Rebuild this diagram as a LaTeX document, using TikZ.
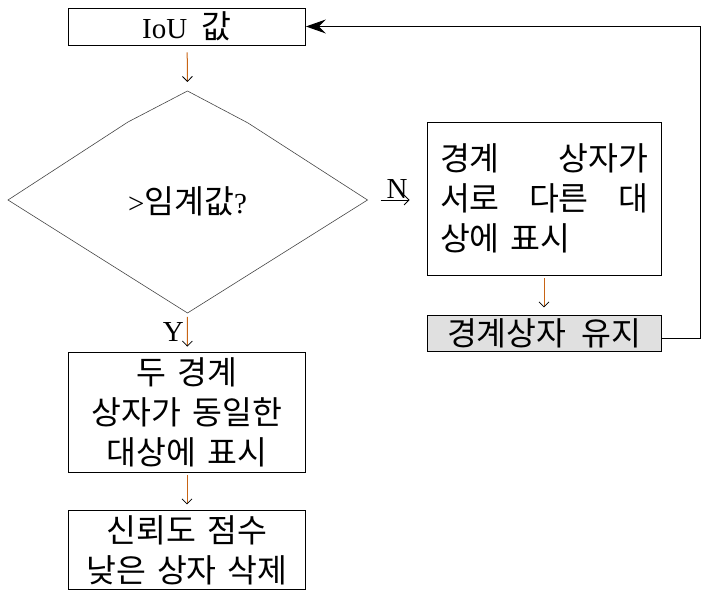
\documentclass[tikz,border=0pt]{standalone}
\usepackage{fontspec}
\setmainfont{Liberation Serif}
\newfontfamily\krfont[Scale=1.12]{Noto Sans CJK KR}
\usetikzlibrary{arrows.meta, positioning}
\definecolor{flowbrown}{RGB}{200,100,20}
\definecolor{edgegray}{RGB}{70,70,70}
\definecolor{keepgray}{RGB}{224,224,224}
\newcommand\boxfont{\krfont\fontsize{29}{40}\selectfont\spaceskip 0.45em\relax}
\tikzset{
  box/.style={rectangle, draw=black, line width=0.8pt, align=center,
    inner sep=0pt, font=\boxfont},
  yn/.style={font=\rmfamily\fontsize{29}{34}\selectfont, inner sep=1pt},
  decline/.style={draw=edgegray, line width=0.6pt},
  flow/.style={draw=flowbrown, line width=1pt,
    -{Straight Barb[length=5pt,width=10pt,color=black,line width=0.8pt]}},
  yesno/.style={draw=black, line width=0.8pt,
    -{Straight Barb[length=5pt,width=10pt,line width=0.8pt]}},
  fback/.style={draw=black, line width=1pt,
    -{Stealth[length=20pt,width=14pt,inset=7pt]}}
}
\begin{document}
\begin{tikzpicture}[x=1pt, y=1pt, node distance=40pt]
  \useasboundingbox (0,0) rectangle (703,596);

  % left column
  \node [box, minimum width=237pt, minimum height=37pt] (iou) at (187,569.5) {{\rmfamily IoU} 값};

  \coordinate (dtop) at (187.5,505);
  \coordinate (dkl) at (128,474);
  \coordinate (dleft) at (8,396);
  \coordinate (dbottom) at (187.5,283);
  \coordinate (dright) at (367.5,396);
  \coordinate (dkr) at (248,473);
  \draw [decline] (dtop) -- (dkl) -- (dleft) -- (dbottom) -- (dright) -- (dkr) -- cycle;
  \node [box, draw=none] (dec) at (187.5,395) {{\rmfamily >}임계값{\rmfamily ?}};

  \node [box, text width=237pt, minimum height=120pt] (same) at (187,184) {두 경계\\상자가 동일한\\대상에 표시};
  \node [box, text width=237pt, minimum height=79pt, below=38pt of same] (drop) {신뢰도 점수\\낮은 상자 삭제};

  % right column
  \node [box, align=left, text width=208pt, inner xsep=13pt, minimum height=153pt] (diff) at (544,397.5)
    {경계\hfill 상자가\\서로\hfill 다른\hfill 대\\상에 표시};
  \node [box, fill=keepgray, minimum width=234pt, minimum height=36pt, below=40pt of diff] (keep) {경계상자 유지};

  \draw [flow, shorten <=7pt, shorten >=9pt] (iou) -- (dtop);
  \draw [flow, shorten <=4pt, shorten >=5pt] (dbottom) -- node [yn, left=2pt] {Y} (same);
  \draw [flow, shorten <=3pt, shorten >=6pt] (same) -- (drop);
  \draw [yesno, shorten <=13pt, shorten >=17pt] (dright) -- node [yn, above] {N} (dright -| diff.west);
  \draw [flow, shorten <=3pt, shorten >=8pt] (diff) -- (keep);
  \draw [fback] ([yshift=-5pt]keep.east) -- ++(39,0) |- (iou.east);
\end{tikzpicture}
\end{document}
